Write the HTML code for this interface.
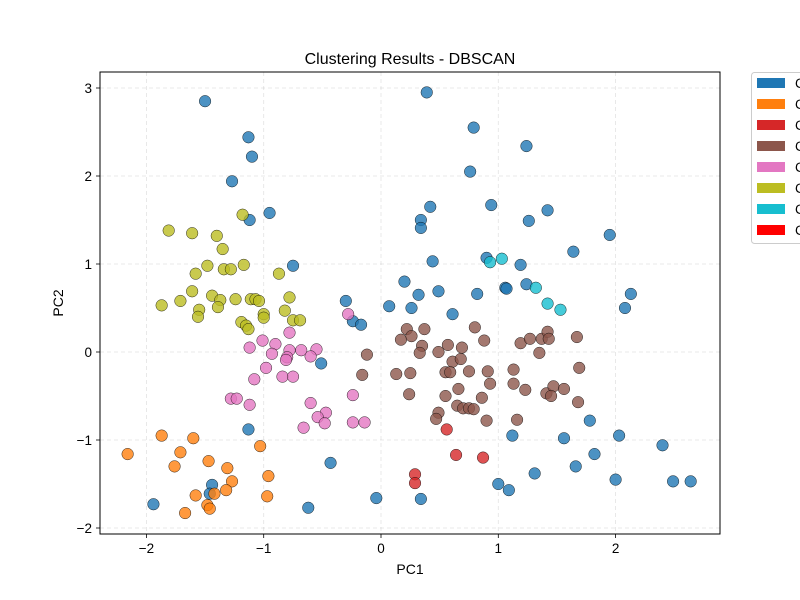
<!DOCTYPE html>
<html><head><meta charset="utf-8"><style>
html,body{margin:0;padding:0;background:#fff;}
svg{display:block;font-family:"Liberation Sans","DejaVu Sans",sans-serif;}
</style></head><body>
<svg id="chart" width="800" height="600" viewBox="0 0 800 600">
<rect width="800" height="600" fill="#fff"/>
<text x="410" y="64" font-size="16" text-anchor="middle">Clustering Results - DBSCAN</text>
<g id="grid"></g>
<g id="pts"></g>
<rect x="100" y="72" width="620" height="462" fill="none" stroke="#000" stroke-width="1"/>
<g id="ticks"></g>
<text x="410" y="574" font-size="14" text-anchor="middle">PC1</text>
<text x="63" y="303" font-size="14" text-anchor="middle" transform="rotate(-90 63 303)">PC2</text>
<g id="legend"></g>
</svg>
<script>
const xTicks=[-2,-1,0,1,2];
const yTicks=[-2,-1,0,1,2,3];
const clusterNames=["Cluster 0","Cluster 1","Cluster 2","Cluster 3","Cluster 4","Cluster 5","Cluster 6","Cluster 7"];
const clusterColors=["#1f77b4","#ff7f0e","#d62728","#8c564b","#e377c2","#bcbd22","#17becf","#ff0000"];
const c0x=[-1.50,0.39,0.79,-1.13,1.24,-1.10,0.76,-1.27,0.94,0.42,0.34,1.26,-1.12,1.42,-0.95,1.95,0.34,0.44,-0.75,0.90,1.64,1.19,0.20,0.49,0.82,1.06,0.32,2.13,2.08,0.26,0.07,-0.30,-0.24,-0.17,0.61,-0.51,-1.13,-0.43,1.12,1.56,1.78,2.03,2.40,-1.44,-1.46,-1.94,-0.62,-0.04,0.34,1.00,1.09,1.31,1.66,1.82,2.00,2.49,2.64,1.24,1.07];
const c0y=[2.85,2.95,2.55,2.44,2.34,2.22,2.05,1.94,1.67,1.65,1.50,1.49,1.50,1.61,1.58,1.33,1.41,1.03,0.98,1.07,1.14,0.99,0.80,0.69,0.66,0.73,0.65,0.66,0.50,0.50,0.52,0.58,0.35,0.31,0.43,-0.13,-0.88,-1.26,-0.95,-0.98,-0.78,-0.95,-1.06,-1.51,-1.61,-1.73,-1.77,-1.66,-1.67,-1.50,-1.57,-1.38,-1.30,-1.16,-1.45,-1.47,-1.47,0.77,0.72];
const c1x=[-2.16,-1.87,-1.71,-1.76,-1.60,-1.47,-1.31,-1.27,-1.03,-0.96,-0.97,-1.58,-1.42,-1.32,-1.48,-1.46,-1.67];
const c1y=[-1.16,-0.95,-1.14,-1.30,-0.98,-1.24,-1.32,-1.47,-1.07,-1.41,-1.64,-1.63,-1.61,-1.57,-1.74,-1.78,-1.83];
const c2x=[0.56,0.64,0.87,0.29,0.29];
const c2y=[-0.88,-1.17,-1.20,-1.39,-1.49];
const c3x=[0.22,0.37,0.17,0.26,0.35,0.33,0.49,0.57,0.69,0.80,0.88,0.61,0.68,0.13,0.25,0.55,0.59,0.75,0.91,0.24,0.66,0.93,0.55,0.86,0.65,0.70,0.75,0.79,0.49,0.47,0.90,1.19,1.27,1.37,1.42,1.43,1.35,1.67,1.13,1.69,1.13,1.23,1.41,1.47,1.45,1.56,1.68,1.16,-0.12,-0.16];
const c3y=[0.26,0.26,0.14,0.18,0.07,-0.01,0.00,0.08,0.05,0.28,0.13,-0.11,-0.08,-0.25,-0.24,-0.23,-0.23,-0.22,-0.22,-0.48,-0.42,-0.36,-0.50,-0.52,-0.61,-0.64,-0.64,-0.65,-0.69,-0.76,-0.78,0.10,0.15,0.15,0.23,0.15,-0.01,0.17,-0.20,-0.18,-0.36,-0.43,-0.47,-0.39,-0.50,-0.42,-0.57,-0.77,-0.03,-0.26];
const c4x=[-0.78,-1.01,-1.12,-0.90,-0.93,-0.78,-0.80,-0.81,-0.68,-0.55,-0.60,-0.28,-0.98,-1.08,-0.84,-0.75,-0.24,-0.60,-1.28,-1.23,-1.12,-0.47,-0.54,-0.48,-0.66,-0.24,-0.14];
const c4y=[0.22,0.13,0.05,0.09,-0.02,0.02,-0.06,-0.09,0.02,0.03,-0.05,0.43,-0.18,-0.31,-0.28,-0.28,-0.49,-0.58,-0.53,-0.53,-0.60,-0.69,-0.74,-0.81,-0.86,-0.80,-0.80];
const c5x=[-1.81,-1.61,-1.40,-1.35,-1.48,-1.58,-1.34,-1.28,-1.17,-0.87,-1.61,-1.71,-1.87,-1.44,-1.37,-1.39,-1.55,-1.56,-1.24,-1.11,-1.07,-1.04,-0.78,-0.82,-1.00,-1.00,-1.19,-1.15,-1.13,-0.75,-0.69,-1.18];
const c5y=[1.38,1.35,1.32,1.17,0.98,0.89,0.94,0.94,0.99,0.89,0.69,0.58,0.53,0.64,0.59,0.51,0.48,0.40,0.60,0.60,0.60,0.58,0.62,0.47,0.43,0.39,0.34,0.30,0.26,0.36,0.36,1.56];
const c6x=[1.03,0.93,1.32,1.42,1.53];
const c6y=[1.06,1.02,0.73,0.55,0.48];
const c7x=[];
const c7y=[];
const seriesX=[c0x,c1x,c2x,c3x,c4x,c5x,c6x,c7x];
const seriesY=[c0y,c1y,c2y,c3y,c4y,c5y,c6y,c7y];

const NS="http://www.w3.org/2000/svg";
const X0=100,X1=720,Y0=72,Y1=534;
const xMin=-2.4,xMax=2.885,yMin=-2.07,yMax=3.18;
function sx(v){return 381+v*117.3;}
function sy(v){return 352-v*88;}
function mk(tag,attrs,parent){const e=document.createElementNS(NS,tag);for(const k in attrs)e.setAttribute(k,attrs[k]);parent.appendChild(e);return e;}
const grid=document.getElementById('grid'),ticks=document.getElementById('ticks'),pts=document.getElementById('pts'),leg=document.getElementById('legend');
xTicks.forEach(t=>{
  const x=sx(t);
  const g=mk('line',{x1:x,x2:x,y1:Y0,y2:Y1,stroke:'#b0b0b0','stroke-width':0.8,'stroke-dasharray':'4,3','stroke-opacity':0.35},grid);
  
  
  const l=mk('line',{x1:x,x2:x,y1:Y1,y2:Y1+4,stroke:'#000','stroke-width':0.8},ticks);
  
  
  const tx=mk('text',{x:x,y:Y1+19,'font-size':13.5,'text-anchor':'middle'},ticks);
  tx.textContent=(t<0?'\u2212'+(-t):t);
  
  
});
yTicks.forEach(t=>{
  const y=sy(t);
  const g=mk('line',{x1:X0,x2:X1,y1:y,y2:y,stroke:'#b0b0b0','stroke-width':0.8,'stroke-dasharray':'4,3','stroke-opacity':0.35},grid);
  
  
  const l=mk('line',{x1:X0-4,x2:X0,y1:y,y2:y,stroke:'#000','stroke-width':0.8},ticks);
  
  
  const tx=mk('text',{x:X0-8,y:y+5,'font-size':13.5,'text-anchor':'end'},ticks);
  tx.textContent=(t<0?'\u2212'+(-t):t);
  
  
});
seriesX.forEach((xs,i)=>{
  xs.forEach((v,j)=>{
    const c=mk('circle',{cx:sx(v),cy:sy(seriesY[i][j]),r:5.8,fill:clusterColors[i],'fill-opacity':0.8,stroke:'#000','stroke-opacity':0.8,'stroke-width':0.5},pts);
    
    
  });
});
const lb=mk('rect',{x:751.5,y:72.5,width:80,height:171,rx:3,fill:'#fff',stroke:'#ccc','stroke-width':1},leg);


clusterNames.forEach((n,i)=>{
  const y=78+i*21;
  const r=mk('rect',{x:757,y:y,width:28,height:10,fill:clusterColors[i]},leg);
  
  
  const t=mk('text',{x:795,y:y+10,'font-size':13.5},leg);
  t.textContent=n;
  
  
});
</script>
</body></html>
